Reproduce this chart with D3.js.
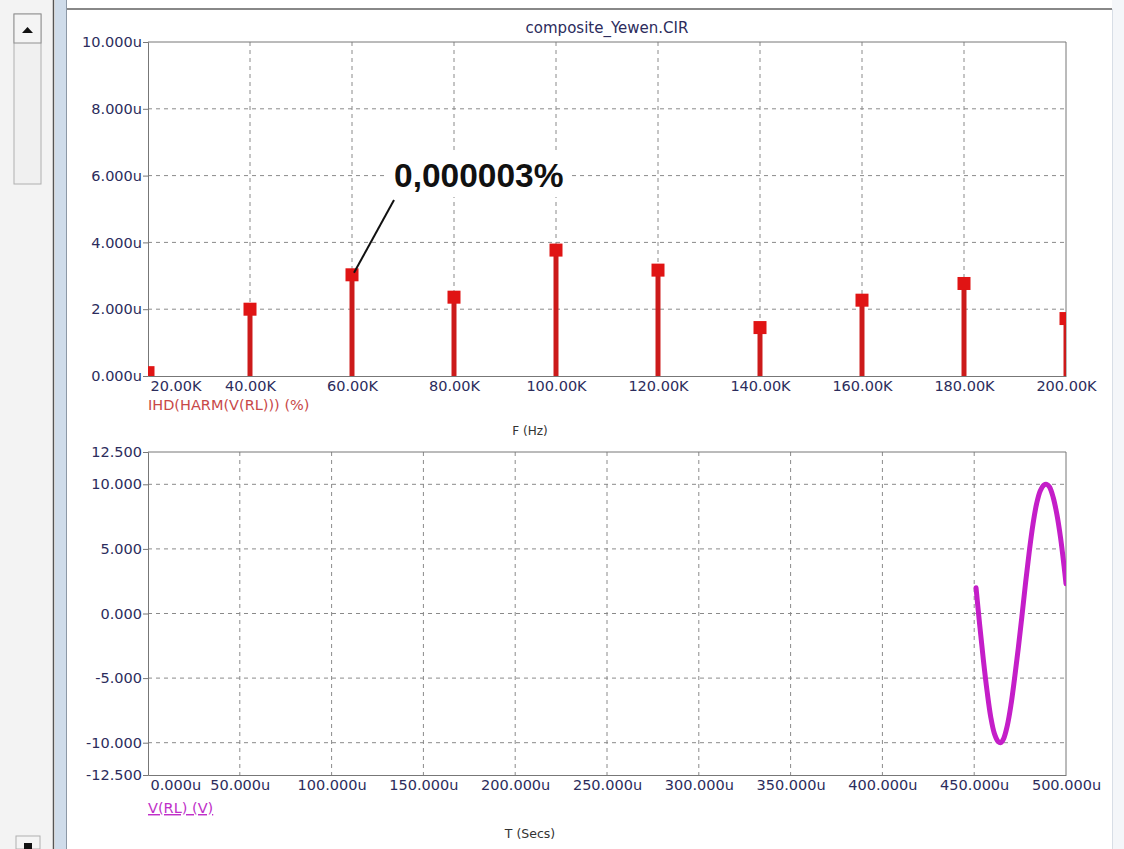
<!DOCTYPE html>
<html>
<head>
<meta charset="utf-8">
<script src="https://cdn.jsdelivr.net/npm/d3@7"></script>
<style>
    body { margin: 0; background: #fff; }
    svg { display: block; font-family: "DejaVu Sans", Verdana, sans-serif; }
</style>
</head>
<body>
<svg id="chart" width="1124" height="849"></svg>
<script>
// harmonic spectrum (top plot)
const harmFreqK = [20, 40, 60, 80, 100, 120, 140, 160, 180, 200];
const harmIhd = [0.1, 2.0, 3.03, 2.36, 3.77, 3.17, 1.45, 2.27, 2.77, 1.72];
const freqTicks = [20, 40, 60, 80, 100, 120, 140, 160, 180, 200];
const ihdTicks = [0, 2, 4, 6, 8, 10];

// transient V(RL) (bottom plot)
const timeU = [451, 453, 455, 457, 459, 461, 463, 464.5, 466, 468, 470, 472, 474, 476,
    478, 480, 482, 484, 486, 488, 489.5, 491, 493, 495, 497, 499, 500];
const voltRL = [2.0, -0.9, -3.6, -6.0, -8.0, -9.3, -9.9, -10.0, -9.7, -8.7, -7.1, -5.0,
    -2.7, -0.2, 2.4, 4.8, 6.9, 8.5, 9.5, 9.95, 10.0, 9.8, 9.0, 7.7, 5.9, 3.6, 2.3];
const timeTicks = [0, 50, 100, 150, 200, 250, 300, 350, 400, 450, 500];
const voltTicks = [-12.5, -10, -5, 0, 5, 10, 12.5];

const svg = d3.select("#chart");
const labelColor = "#2c2c5c";
const gridColor = "#8a8a8a";
const tickFont = 14.5;

// ---- window chrome ----
svg.append("rect").attr("x", 0).attr("y", 0).attr("width", 53).attr("height", 849).attr("fill", "#f3f3f3");
svg.append("rect").attr("x", 14).attr("y", 14).attr("width", 27).attr("height", 170)
    .attr("fill", "#f0f0f0").attr("stroke", "#b0b0b0");
svg.append("rect").attr("x", 14).attr("y", 14).attr("width", 27).attr("height", 29)
    .attr("fill", "#f4f4f4").attr("stroke", "#909090");
svg.append("path").attr("d", "M22,33 L33,33 L27.5,27 Z").attr("fill", "#111");
svg.append("rect").attr("x", 16).attr("y", 836).attr("width", 24).attr("height", 13)
    .attr("fill", "#f4f4f4").attr("stroke", "#b0b0b0");
svg.append("rect").attr("x", 24).attr("y", 843).attr("width", 8).attr("height", 6).attr("fill", "#111");
svg.append("line").attr("x1", 53.5).attr("x2", 53.5).attr("y1", 0).attr("y2", 849).attr("stroke", "#555").attr("stroke-width", 1.5);
svg.append("rect").attr("x", 55).attr("y", 0).attr("width", 11).attr("height", 849).attr("fill", "#cfdcea");
svg.append("line").attr("x1", 66.5).attr("x2", 66.5).attr("y1", 0).attr("y2", 849).attr("stroke", "#8c98a6");
svg.append("line").attr("x1", 67).attr("x2", 1112).attr("y1", 9).attr("y2", 9).attr("stroke", "#888").attr("stroke-width", 2);
svg.append("rect").attr("x", 1112).attr("y", 0).attr("width", 12).attr("height", 849).attr("fill", "#f4f6f9");
svg.append("line").attr("x1", 1112.5).attr("x2", 1112.5).attr("y1", 9).attr("y2", 849).attr("stroke", "#d8dee6");

const left = 148, right = 1066;

function drawFrame(g, x, y, xt, yt, xfmt, yfmt, top, bottom) {
    // dashed grid
    g.append("g").selectAll("line").data(xt.slice(1, -1)).join("line")
        .attr("x1", d => x(d)).attr("x2", d => x(d))
        .attr("y1", top).attr("y2", bottom)
        .attr("stroke", gridColor).attr("stroke-dasharray", "4,4");
    g.append("g").selectAll("line").data(yt.filter(v => y(v) > top + 2 && y(v) < bottom - 2)).join("line")
        .attr("x1", left).attr("x2", right)
        .attr("y1", d => y(d)).attr("y2", d => y(d))
        .attr("stroke", gridColor).attr("stroke-dasharray", "4,4");

    // axes
    const yAxis = d3.axisLeft(y).tickValues(yt).tickFormat(yfmt).tickSize(5).tickPadding(1);
    const ya = g.append("g").attr("transform", `translate(${left},0)`).call(yAxis);
    ya.select(".domain").attr("stroke", "#777");
    ya.selectAll(".tick line").attr("stroke", "#777");
    ya.selectAll("text").attr("fill", labelColor).attr("font-size", tickFont)
        .attr("font-family", "DejaVu Sans");

    const xAxis = d3.axisBottom(x).tickValues(xt).tickFormat(xfmt).tickSize(0).tickPadding(5);
    const xa = g.append("g").attr("transform", `translate(0,${bottom})`).call(xAxis);
    xa.select(".domain").attr("stroke", "#777");
    xa.selectAll("text").attr("fill", labelColor).attr("font-size", tickFont)
        .attr("font-family", "DejaVu Sans");
    xa.select(".tick text").attr("text-anchor", "start").attr("x", 2);

    g.append("line").attr("x1", left).attr("x2", right).attr("y1", top).attr("y2", top).attr("stroke", "#777");
    g.append("line").attr("x1", right).attr("x2", right).attr("y1", top).attr("y2", bottom).attr("stroke", "#777");
}

// ---- top plot: harmonic distortion ----
const topY0 = 42, topY1 = 376;
const xF = d3.scaleLinear().domain([20, 200]).range([left, right]);
const yI = d3.scaleLinear().domain([0, 10]).range([topY1, topY0]);
const gTop = svg.append("g");

gTop.append("text").attr("x", 607).attr("y", 33).attr("text-anchor", "middle")
    .attr("fill", labelColor).attr("font-size", 15).text("composite_Yewen.CIR");

drawFrame(gTop, xF, yI, freqTicks, ihdTicks,
    d => d.toFixed(2) + "K", d => d.toFixed(3) + "u", topY0, topY1);

svg.append("clipPath").attr("id", "clipTop").append("rect")
    .attr("x", left).attr("y", topY0).attr("width", right - left).attr("height", topY1 - topY0);

const stems = gTop.append("g").attr("clip-path", "url(#clipTop)");
const harm = harmFreqK.map((f, i) => ({ f: f, v: harmIhd[i] }));
stems.selectAll("line").data(harm).join("line")
    .attr("x1", d => xF(d.f)).attr("x2", d => xF(d.f))
    .attr("y1", topY1).attr("y2", d => yI(d.v))
    .attr("stroke", "#cc1a1a").attr("stroke-width", 5);
stems.selectAll("rect").data(harm).join("rect")
    .attr("x", d => xF(d.f) - 6.5).attr("y", d => yI(d.v) - 6.5)
    .attr("width", 13).attr("height", 13).attr("fill", "#e01414");

gTop.append("text").attr("x", left).attr("y", 410).attr("fill", "#c84848")
    .attr("font-size", 14.5).text("IHD(HARM(V(RL))) (%)");
gTop.append("text").attr("x", 530).attr("y", 435).attr("text-anchor", "middle")
    .attr("fill", "#333").attr("font-size", 12).text("F (Hz)");

// annotation
gTop.append("rect").attr("x", 385).attr("y", 152).attr("width", 183).attr("height", 45).attr("fill", "#fff");
gTop.append("text").attr("x", 394).attr("y", 187).attr("font-size", 33.5).attr("font-weight", "bold")
    .attr("font-family", "Liberation Sans, Arial, sans-serif")
    .attr("fill", "#111").text("0,000003%");
gTop.append("line").attr("x1", 394).attr("y1", 200).attr("x2", xF(60) + 2).attr("y2", yI(harmIhd[2]) - 2)
    .attr("stroke", "#111").attr("stroke-width", 2);

// ---- bottom plot: V(RL) transient ----
const botY0 = 452, botY1 = 775;
const xT = d3.scaleLinear().domain([0, 500]).range([left, right]);
const yV = d3.scaleLinear().domain([-12.5, 12.5]).range([botY1, botY0]);
const gBot = svg.append("g");

drawFrame(gBot, xT, yV, timeTicks, voltTicks,
    d => d.toFixed(3) + "u", d => d.toFixed(3), botY0, botY1);

svg.append("clipPath").attr("id", "clipBot").append("rect")
    .attr("x", left).attr("y", botY0).attr("width", right - left).attr("height", botY1 - botY0);

const wave = timeU.map((t, i) => ({ t: t, v: voltRL[i] }));
gBot.append("path").datum(wave).attr("clip-path", "url(#clipBot)")
    .attr("fill", "none").attr("stroke", "#c41ec8").attr("stroke-width", 5)
    .attr("stroke-linejoin", "round").attr("stroke-linecap", "round")
    .attr("d", d3.line().x(d => xT(d.t)).y(d => yV(d.v)).curve(d3.curveCatmullRom));

gBot.append("text").attr("x", left).attr("y", 813).attr("fill", "#c030c8")
    .attr("font-size", 14.5).attr("text-decoration", "underline").text("V(RL) (V)");
gBot.append("text").attr("x", 530).attr("y", 838).attr("text-anchor", "middle")
    .attr("fill", "#333").attr("font-size", 12.5).text("T (Secs)");
</script>
</body>
</html>
